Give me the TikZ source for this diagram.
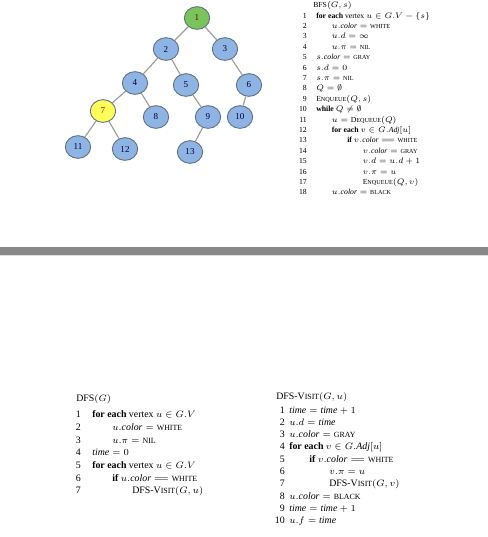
\documentclass[tikz,border=0pt]{standalone}
\usepackage{amsmath,amssymb}
\usepackage{fontspec}
\setmainfont{Liberation Serif}
\usetikzlibrary{shapes.geometric}
\definecolor{nodeblue}{RGB}{142,180,227}
\definecolor{nodeline}{RGB}{98,114,134}
\definecolor{nodegreen}{RGB}{122,196,92}
\definecolor{nodeyellow}{RGB}{255,255,90}
\definecolor{barcol}{RGB}{136,136,136}
\newcommand\fsc[1]{\scalebox{0.8}{#1}}
\newcommand\attr[1]{\mathit{#1}}
\newcommand\eqeq{\mathrel{=\!=}}
\tikzset{
  vert/.style={ellipse,draw=nodeline,line width=0.7pt,fill=nodeblue,minimum width=19pt,minimum height=17pt,inner sep=0pt,font=\fontsize{6.8}{6.8}\selectfont,text=blue!25!black},
  tedge/.style={draw=gray!75,line width=0.9pt},
  codesmall/.style={anchor=base west,inner sep=0pt,font=\fontsize{5.8}{7}\selectfont},
  codebig/.style={anchor=base west,inner sep=0pt,font=\fontsize{7.4}{9}\selectfont},
  lnsmall/.style={anchor=base east,inner sep=0pt,font=\fontsize{5.8}{7}\selectfont},
  lnbig/.style={anchor=base east,inner sep=0pt,font=\fontsize{7.4}{9}\selectfont},
}
\begin{document}
\begin{tikzpicture}[x=0.75pt,y=-0.75pt]
\useasboundingbox (0,0) rectangle (488,537);
% tree
\node[vert,fill=nodegreen,text=red!40!black] (v1) at (197,18) {1};
\node[vert] (v2) at (166,49) {2};
\node[vert] (v3) at (225,49) {3};
\node[vert] (v4) at (135,83) {4};
\node[vert] (v5) at (186,85) {5};
\node[vert] (v6) at (249,85) {6};
\node[vert,fill=nodeyellow,text=red!75!black] (v7) at (103,111) {7};
\node[vert] (v8) at (156,117) {8};
\node[vert] (v9) at (208,117) {9};
\node[vert] (v10) at (240,117) {10};
\node[vert] (v11) at (78,147) {11};
\node[vert] (v12) at (125,149) {12};
\node[vert] (v13) at (190,152) {13};
\foreach \a/\b in {1/2,1/3,2/4,2/5,3/6,4/7,4/8,5/9,6/10,7/11,7/12,9/13}
  \draw[tedge] (v\a) -- (v\b);
% BFS
\node[codesmall] (bfs) at (313,7.5) {BFS$(G,s)$};
\foreach \n/\ind/\txt in {
  1/0/{\textbf{for each} vertex $u\in G.V-\{s\}$},
  2/1/{$u.\attr{color} = {}$\fsc{WHITE}},
  3/1/{$u.d=\infty$},
  4/1/{$u.\pi = {}$\fsc{NIL}},
  5/0/{$s.\attr{color} = {}$\fsc{GRAY}},
  6/0/{$s.d=0$},
  7/0/{$s.\pi = {}$\fsc{NIL}},
  8/0/{$Q=\emptyset$},
  9/0/{E\fsc{NQUEUE}$(Q,s)$},
  10/0/{\textbf{while} $Q\neq\emptyset$},
  11/1/{$u = {}$D\fsc{EQUEUE}$(Q)$},
  12/1/{\textbf{for each} $v\in G.\attr{Adj}[u]$},
  13/2/{\textbf{if} $v.\attr{color}\eqeq{}$\fsc{WHITE}},
  14/3/{$v.\attr{color} = {}$\fsc{GRAY}},
  15/3/{$v.d = u.d+1$},
  16/3/{$v.\pi = u$},
  17/3/{E\fsc{NQUEUE}$(Q,v)$},
  18/1/{$u.\attr{color} = {}$\fsc{BLACK}}} {
  \node[lnsmall] (bn\n) at (307,18+10.4*\n-10.4) {\n};
  \node[codesmall] (bl\n) at (316+15.5*\ind,18+10.4*\n-10.4) {\txt};
}
% separator
\fill[barcol] (0,247) rectangle (488,255);
\fill[gray!25] (0,255) rectangle (488,256);
% DFS
\node[codebig] (dfs) at (76,401) {DFS$(G)$};
\foreach \n/\ind/\txt in {
  1/0/{\textbf{for each} vertex $u\in G.V$},
  2/1/{$u.\attr{color} = {}$\fsc{WHITE}},
  3/1/{$u.\pi = {}$\fsc{NIL}},
  4/0/{$\attr{time}=0$},
  5/0/{\textbf{for each} vertex $u\in G.V$},
  6/1/{\textbf{if} $u.\attr{color}\eqeq{}$\fsc{WHITE}},
  7/2/{DFS-V\fsc{ISIT}$(G,u)$}} {
  \node[lnbig] (dn\n) at (81,417.7+12.7*\n-12.7) {\n};
  \node[codebig] (dl\n) at (92+20*\ind,417.7+12.7*\n-12.7) {\txt};
}
% DFS-Visit
\node[codebig] (visit) at (276,399) {DFS-V\fsc{ISIT}$(G,u)$};
\foreach \n/\ind/\txt in {
  1/0/{$\attr{time} = \attr{time}+1$},
  2/0/{$u.d = \attr{time}$},
  3/0/{$u.\attr{color} = {}$\fsc{GRAY}},
  4/0/{\textbf{for each} $v\in G.\attr{Adj}[u]$},
  5/1/{\textbf{if} $v.\attr{color}\eqeq{}$\fsc{WHITE}},
  6/2/{$v.\pi = u$},
  7/2/{DFS-V\fsc{ISIT}$(G,v)$},
  8/0/{$u.\attr{color} = {}$\fsc{BLACK}},
  9/0/{$\attr{time} = \attr{time}+1$},
  10/0/{$u.f = \attr{time}$}} {
  \node[lnbig] (vn\n) at (285,413+12.33*\n-12.33) {\n};
  \node[codebig] (vl\n) at (289+20*\ind,413+12.33*\n-12.33) {\txt};
}
\end{tikzpicture}
\end{document}
